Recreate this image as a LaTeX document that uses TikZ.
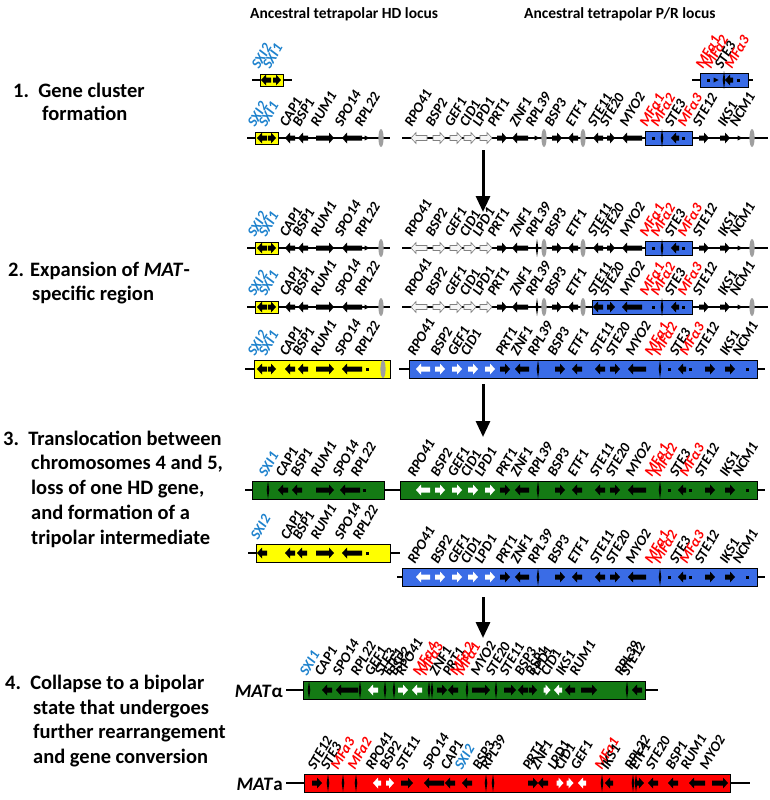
\documentclass[tikz,border=0pt]{standalone}
\usepackage{fontspec}
\setmainfont{Carlito}
\usetikzlibrary{arrows.meta}
\definecolor{lb}{RGB}{30,130,205}
\definecolor{lr}{RGB}{255,0,0}
\definecolor{yel}{RGB}{255,255,0}
\definecolor{blu}{RGB}{58,108,230}
\definecolor{grn}{RGB}{20,122,20}
\definecolor{red}{RGB}{255,0,0}
\newcommand\gA[5][black]{\begin{scope}[shift={(#2,#3)},xscale=#4]\path[fill=#1] (-#5,-2.5)--(#5-5,-2.5)--(#5-5,-5.5)--(#5,0)--(#5-5,5.5)--(#5-5,2.5)--(-#5,2.5)--cycle;\end{scope}}
\newcommand\gW[4]{\begin{scope}[shift={(#1,#2)},xscale=#3]\path[fill=gray!8,draw=gray,line width=0.6pt] (-#4,-2.5)--(#4-5,-2.5)--(#4-5,-5.5)--(#4,0)--(#4-5,5.5)--(#4-5,2.5)--(-#4,2.5)--cycle;\end{scope}}
\newcommand\gB[2]{\fill (#1,#2-9)--(#1+1.3,#2)--(#1,#2+9)--(#1-1.3,#2)--cycle;}
\newcommand\gG[2]{\fill[gray!75] (#1,#2) ellipse (2.6 and 9);}
\newcommand\gr[2]{\fill (#1-2.5,#2-2.5)--(#1+2.5,#2)--(#1-2.5,#2+2.5)--cycle;}
\newcommand\gd[2]{\fill (#1-1.5,#2-1.5) rectangle (#1+1.5,#2+1.5);}
\newcommand\labs[2]{\foreach \x/\t in {#2} \node[lbl] at (\x,#1) {\t};}
\newcommand\mfa[1]{\textcolor{lr}{MFα#1}}
\newcommand\sx[1]{\textcolor{lb}{SXI#1}}
\newcommand\HDopen[1]{%
 \draw[chr] (247,#1)--(390,#1);
 \draw[bx,fill=yel] (255,#1-6) rectangle (278,#1+6);
 \gA{262}{#1}{-1}{5}\gA{272}{#1}{1}{4}\gA{290}{#1}{-1}{5}\gA{303}{#1}{-1}{5}
 \gA{325}{#1}{1}{9}\gA{352}{#1}{-1}{10}\gr{367}{#1}\gG{381}{#1}
 \labs{#1-10}{255/\sx2,266/\sx1,287/CAP1,300/BSP1,318/RUM1,342/SPO14,362/RPL22}}
\newcommand\PRopen[3]{%
 \draw[chr] (402,#1)--(768,#1);
 \draw[bx,fill=blu] (#2,#1-7) rectangle (692,#1+7);
 \gW{419}{#1}{-1}{8}\gW{439}{#1}{1}{6}\gW{456}{#1}{1}{6}\gW{470}{#1}{1}{6}\gW{486}{#1}{1}{6}
 \gA{502}{#1}{1}{5}\gA{520}{#1}{-1}{8}#3{537}{#1}\gG{544}{#1}
 \gA{557}{#1}{1}{5}\gA{573}{#1}{-1}{5}\gG{583}{#1}\gA{598}{#1}{-1}{5}\gA{611}{#1}{1}{4}
 \gA{632}{#1}{-1}{10}\gd{653}{#1}\gB{662}{#1}\gA{675}{#1}{-1}{4}\gd{683}{#1}
 \gA{704}{#1}{1}{5}\gA{725}{#1}{1}{5}\gr{740}{#1}\gG{752}{#1}
 \labs{#1-10}{412/RPO41,433/BSP2,452/GEF1,467/CID1,480/LPD1,495/PRT1,517/ZNF1,533/RPL39,552/BSP3,573/ETF1,595/STE11,607/STE20,627/MYO2,647/\mfa1,658/\mfa2,672/STE3,685/\mfa3,700/STE12,725/IKS1,737/NCM1}}
\newcommand\PRbox[4]{%
 \draw[chr] (#4,#1)--(765,#1);
 \draw[bx,fill=#3] (#2,#1-9) rectangle (757,#1+9);
 \gA[white]{423}{#1}{-1}{7}\gA[white]{440}{#1}{1}{5}\gA[white]{457}{#1}{1}{5}\gA[white]{473}{#1}{1}{5}\gA[white]{490}{#1}{1}{5}
 \gA{505}{#1}{1}{5}\gA{522}{#1}{-1}{7}\gB{538}{#1}\gA{560}{#1}{1}{5}\gA{577}{#1}{-1}{5}
 \gA{600}{#1}{-1}{5}\gA{615}{#1}{1}{5}\gA{637}{#1}{-1}{9}\gB{660}{#1}\gd{669}{#1}\gA{682}{#1}{-1}{4}\gd{690}{#1}
 \gA{710}{#1}{1}{5}\gA{730}{#1}{1}{5}\gd{747}{#1}}
\newcommand\PRboxlabs[2]{\labs{#1}{415/RPO41,438/BSP2,455/GEF1,468/CID1,#2503/PRT1,518/ZNF1,535/RPL39,555/BSP3,575/ETF1,597/STE11,613/STE20,633/MYO2,652/\mfa1,660/\mfa2,677/STE3,687/\mfa3,702/STE12,727/IKS1,740/NCM1}}
\begin{document}
\begin{tikzpicture}[x=1pt,y=-1pt,
 chr/.style={line width=1.1pt},
 bx/.style={draw=black,line width=0.8pt},
 lbl/.style={anchor=base west,rotate=60,inner sep=0pt,font=\fontsize{14.5}{15}\selectfont\bfseries\itshape},
 stp/.style={anchor=base west,inner sep=0pt,font=\fontsize{20.5}{22}\selectfont\bfseries},
 hdr/.style={anchor=base west,inner sep=0pt,font=\fontsize{15.5}{17}\selectfont\bfseries},
 arr/.style={line width=3pt,-{Triangle[width=14pt,length=16pt]}}]
\useasboundingbox (0,0) rectangle (769,800);
\node[hdr] (h1) at (250,19) {Ancestral tetrapolar HD locus};
\node[hdr] (h2) at (524,19) {Ancestral tetrapolar P/R locus};
\node[stp] (s1a) at (13,97) {1.\ \ Gene cluster};
\node[stp] (s1b) at (42,120) {formation};
\node[stp] (s2a) at (8,276) {2. Expansion of \textit{MAT}-};
\node[stp] (s2b) at (32,300) {specific region};
\node[stp] (s3a) at (3,445) {3.\ \ Translocation between};
\node[stp] (s3b) at (31,469) {chromosomes 4 and 5,};
\node[stp] (s3c) at (31,494) {loss of one HD gene,};
\node[stp] (s3d) at (31,519) {and formation of a};
\node[stp] (s3e) at (31,544) {tripolar intermediate};
\node[stp] (s4a) at (5,689) {4.\ \ Collapse to a bipolar};
\node[stp] (s4b) at (33,714) {state that undergoes};
\node[stp] (s4c) at (33,738) {further rearrangement};
\node[stp] (s4d) at (33,763) {and gene conversion};
\draw[chr] (252,80)--(292,80);
\draw[bx,fill=yel] (260,74) rectangle (283,86);
\gA{266}{80}{-1}{5}\gA{277}{80}{1}{4}
\labs{70}{259/\sx2,270/\sx1}
\draw[chr] (692,80)--(753,80);
\draw[bx,fill=blu] (700,73) rectangle (748,87);
\gd{708}{80}\gr{716}{80}\gB{724}{80}\gA{729}{80}{-1}{4}\gd{738}{80}
\labs{70}{703/\mfa1,711/\mfa2,722/STE3,732/\mfa3}
\HDopen{138}
\PRopen{138}{645}{\gr}
\HDopen{248}
\PRopen{248}{645}{\gB}
\HDopen{307}
\PRopen{307}{592}{\gB}
\draw[chr] (245,369)--(254,369);
\draw[bx,fill=yel] (254,360) rectangle (390,378);
\gA{262}{369}{-1}{5}\gA{272}{369}{1}{4}\gA{290}{369}{-1}{5}\gA{303}{369}{-1}{5}
\gA{325}{369}{1}{9}\gA{352}{369}{-1}{10}\gd{367}{369}\gG{383}{369}
\labs{357}{255/\sx2,266/\sx1,287/CAP1,300/BSP1,318/RUM1,342/SPO14,362/RPL22}
\PRbox{369}{409}{blu}{399}
\PRboxlabs{357}{}
\draw[chr] (245,490)--(400,490);
\draw[bx,fill=grn] (252,481) rectangle (384,499);
\gB{268}{490}\gA{283}{490}{-1}{5}\gA{297}{490}{-1}{5}\gA{325}{490}{1}{9}\gA{350}{490}{-1}{10}\gd{364}{490}
\labs{478}{266/\sx1,283/CAP1,298/BSP1,318/RUM1,340/SPO14,358/RPL22}
\PRbox{490}{400}{grn}{395}
\PRboxlabs{478}{482/LPD1,}
\draw[chr] (248,553)--(400,553);
\draw[bx,fill=yel] (256,544) rectangle (390,562);
\gA{262}{553}{-1}{5}\gA{290}{553}{-1}{5}\gA{302}{553}{-1}{5}\gA{325}{553}{1}{9}\gA{352}{553}{-1}{10}\gd{367}{553}
\labs{541}{258/\sx2,288/CAP1,300/BSP1,318/RUM1,342/SPO14,360/RPL22}
\PRbox{577}{402}{blu}{397}
\PRboxlabs{565}{482/LPD1,}
\node[anchor=base east,inner sep=0pt,font=\fontsize{19}{20}\selectfont\bfseries] (ma) at (283,697) {\textit{MAT}α};
\draw[chr] (286,690) -- (658,690);
\draw[bx,fill=grn] (303,681) rectangle (645,699);
\gB{309}{690}\gA{327}{690}{-1}{5}\gA{347}{690}{-1}{11}\gB{360}{690}\gA[white]{373}{690}{-1}{5}
\gB{385}{690}\gB{394}{690}\gA[white]{403}{690}{1}{5}\gA[white]{417}{690}{-1}{5}\gB{429}{690}\gB{432}{690}
\gA{442}{690}{1}{5}\gA{453}{690}{-1}{5}\gB{467}{690}\gA{481}{690}{1}{9}\gB{496}{690}\gA{510}{690}{1}{6}
\gA{523}{690}{-1}{5}\gA{533}{690}{1}{4}\gA[white]{547}{690}{1}{3.5}\gA[white]{558}{690}{-1}{4}\gA{570}{690}{-1}{5}
\gA{589}{690}{1}{8}\gB{627}{690}\gA{637}{690}{-1}{5}
\labs{677}{307/\textcolor{lb}{SXI1},322/CAP1,340/SPO14,358/RPL22,372/GEF1,382/STE3,390/ETF1,396/BSP2,403/RPO41,420/\mfa4,426/\mfa3,437/ZNF1,450/PRT1,457/\mfa2,463/\mfa1,478/MYO2,493/STE20,507/STE11,522/BSP3,533/BSP1,538/LPD1,548/CID1,563/IKS1,577/RUM1,622/RPL39,628/STE12}
\node[anchor=base east,inner sep=0pt,font=\fontsize{19}{20}\selectfont\bfseries] (mb) at (283,790) {\textit{MAT}a};
\draw[chr] (286,783) -- (750,783);
\draw[bx,fill=red] (304,774) rectangle (730,792);
\gA{317}{783}{1}{5}\gB{328}{783}\gB{343}{783}\gB{356}{783}\gA[white]{377}{783}{-1}{4}\gA[white]{390}{783}{1}{4}
\gA{407}{783}{1}{6}\gA{434}{783}{-1}{10}\gA{450}{783}{-1}{5}\gA{467}{783}{-1}{5}\gB{486}{783}\gB{493}{783}
\gA{533}{783}{1}{5}\gA{543}{783}{-1}{5}\gA[white]{560}{783}{1}{3.5}\gA[white]{570}{783}{1}{3.5}\gA[white]{582}{783}{-1}{4}
\gB{602}{783}\gA{609}{783}{-1}{4}\gB{633}{783}\gB{636}{783}\gA{640}{783}{1}{4}\gA{653}{783}{-1}{5}\gA{673}{783}{-1}{5}
\gA{697}{783}{-1}{8}\gA{720}{783}{1}{8}
\labs{771}{315/STE12,328/STE3,338/\textcolor{lr}{MFa3},355/\textcolor{lr}{MFa2},373/RPO41,387/BSP2,403/STE11,430/SPO14,448/CAP1,462/\textcolor{lb}{SXI2},480/BSP3,488/RPL39,530/PRT1,538/ZNF1,555/LPD1,562/CID1,578/GEF1,602/\textcolor{lr}{MFa1},608/IKS1,632/RPL22,637/ETF1,653/STE20,673/BSP1,688/RUM1,707/MYO2}
\coordinate (a1) at (483,150); \coordinate (b1) at (483,212);
\coordinate (a2) at (483,384); \coordinate (b2) at (483,437);
\coordinate (a3) at (483,597); \coordinate (b3) at (483,638);
\draw[arr] (a1)--(b1);
\draw[arr] (a2)--(b2);
\draw[arr] (a3)--(b3);
\end{tikzpicture}
\end{document}
